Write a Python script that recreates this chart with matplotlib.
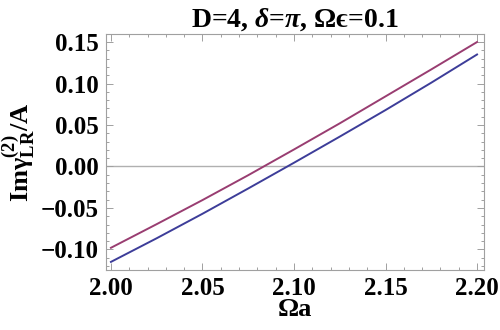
import numpy as np
import matplotlib.pyplot as plt
from matplotlib.ticker import MultipleLocator

plt.rcParams['font.family'] = ['Liberation Serif', 'DejaVu Serif']
plt.rcParams['font.weight'] = 'bold'
plt.rcParams['mathtext.fontset'] = 'custom'
plt.rcParams['mathtext.default'] = 'regular'
plt.rcParams['mathtext.rm'] = 'Liberation Serif:bold'
plt.rcParams['mathtext.it'] = 'Liberation Serif:italic:bold'
plt.rcParams['mathtext.bf'] = 'Liberation Serif:bold'

# values
omega_a = [2.000, 2.025, 2.050, 2.075, 2.100, 2.125, 2.150, 2.175, 2.200]
curve_purple = [-0.098, -0.0695, -0.0405, -0.0105, 0.0205, 0.052, 0.0845, 0.117, 0.150]
curve_blue = [-0.115, -0.0865, -0.057, -0.0265, 0.0045, 0.036, 0.068, 0.101, 0.135]

x_ticks = [2.00, 2.05, 2.10, 2.15, 2.20]
y_ticks = [-0.10, -0.05, 0.00, 0.05, 0.10, 0.15]

fig = plt.figure(figsize=(5, 3.3), dpi=100)
ax = fig.add_axes([0.212, 0.182, 0.756, 0.715])

ax.axhline(0, color='#b0b0b0', lw=1.0, zorder=1)
ax.plot(omega_a, curve_blue, color=(0.24, 0.24, 0.6), lw=1.4, zorder=3)
ax.plot(omega_a, curve_purple, color=(0.6, 0.24, 0.4428), lw=1.4, zorder=3)

ax.set_xlim(1.9973, 2.2038)
ax.set_ylim(-0.1247, 0.1597)
ax.set_xticks(x_ticks)
ax.set_yticks(y_ticks)
ax.set_xticklabels(['%.2f' % v for v in x_ticks])
ax.set_yticklabels([('%.2f' % v).replace('-', '\u2212') for v in y_ticks])
ax.xaxis.set_minor_locator(MultipleLocator(0.01))
ax.yaxis.set_minor_locator(MultipleLocator(0.01))

for s in ax.spines.values():
    s.set_color('#a0a0a0')
    s.set_linewidth(0.8)
ax.tick_params(which='both', direction='in', top=True, right=True, color='#a0a0a0', width=0.7)
ax.tick_params(which='major', length=5, labelsize=18, pad=5)
ax.tick_params(which='minor', length=2.5)

ax.set_title(r'D=4, $\mathit{\delta}$=$\mathit{\pi}$, Ωϵ=0.1', fontsize=20, fontweight='bold', pad=5)
ax.set_xlabel('Ωa', fontsize=19, fontweight='bold', labelpad=-1)
ax.set_ylabel(r'Im$\gamma_{LR}^{(2)}$/A', fontsize=19, fontweight='bold', labelpad=2)

fig.savefig('out.png', dpi=100)
